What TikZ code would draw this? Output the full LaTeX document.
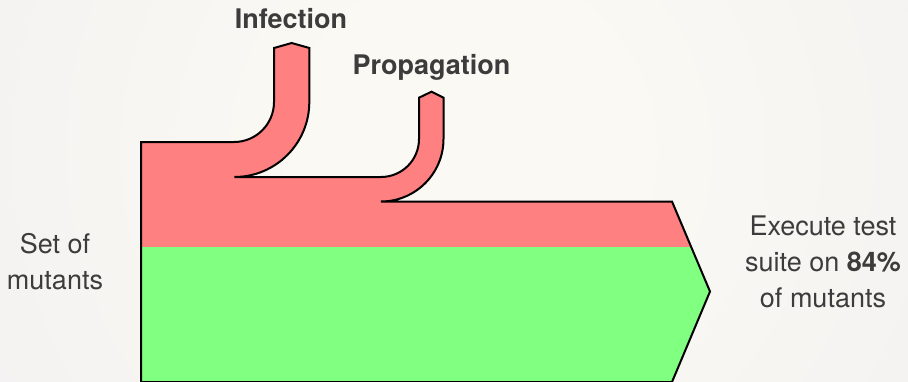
\documentclass[tikz,border=0pt]{standalone}
\usepackage{fontspec}
\setmainfont{TeX Gyre Heros}
\definecolor{bgin}{HTML}{FBF9F3}
\definecolor{bgout}{HTML}{EDEBF1}
\definecolor{redf}{HTML}{FF8080}
\definecolor{greenf}{HTML}{80FF80}
\definecolor{txt}{HTML}{3C3C3C}
\pgfdeclareradialshading{bgshade}{\pgfpoint{0bp}{0bp}}{color(0bp)=(bgin); color(8bp)=(bgin); color(46bp)=(bgout); color(50bp)=(bgout)}
\newcommand\lblsize{\fontsize{27}{36}\selectfont}
\def\flowshape{(141,382) -- (141,142) -- (234,142) .. controls (256.1,142) and (274,124.1) .. (274,102) -- (274,48) -- (291.7,43) -- (309.3,48) -- (309.3,102) .. controls (309.3,143.4) and (275.7,177) .. (234.3,177) -- (381,177) .. controls (402,177) and (419,160) .. (419,139) -- (419,97.7) -- (431.5,91.7) -- (443.5,97.7) -- (443.5,139) .. controls (443.5,173.5) and (415.5,201.5) .. (381,201.5) -- (672,201.5) -- (710,291.5) -- (672,382) -- cycle}
\begin{document}
\begin{tikzpicture}[x=1pt,y=-1pt,
  lbl/.style={text=txt, inner sep=0pt, font=\lblsize},
  boldlbl/.style={text=txt, inner sep=0pt, font=\lblsize\bfseries},
  flow/.style={draw=black, line width=2pt, line join=miter}]
\useasboundingbox (0,0) rectangle (908,381);
\begin{scope}
  \clip (0,0) rectangle (908,381);
  \shade[shading=bgshade] (-30,-350) rectangle (970,650);
\end{scope}
\fill[redf] \flowshape;
\begin{scope}
  \clip \flowshape;
  \fill[greenf] (130,247) rectangle (720,390);
\end{scope}
\draw[flow] \flowshape;
\node[boldlbl, anchor=base] (infection) at (291,28.3) {Infection};
\node[boldlbl, anchor=base] (propagation) at (431.5,74) {Propagation};
\node[lbl, align=center] (setof) at (55,261.5) {Set of\\mutants};
\node[lbl, align=center] (execute) at (823,262) {Execute test\\suite on \textbf{84\%}\\of mutants};
\end{tikzpicture}
\end{document}
